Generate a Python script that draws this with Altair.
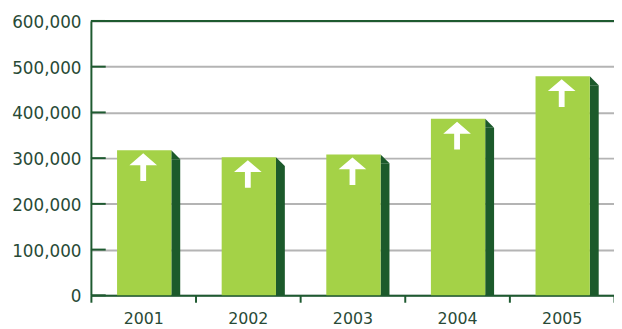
import altair as alt
import pandas as pd

years = ["2001", "2002", "2003", "2004", "2005"]
values = [317000, 302000, 308000, 386000, 479000]
tick_values = [0, 100000, 200000, 300000, 400000, 500000, 600000]

FRONT = "#a4d247"
SIDE = "#1c5a2b"
AXIS = "#1e5a30"
GRID = "#b4b4b4"
LABEL = "#284a36"
FONT = "DejaVu Sans"

df = pd.DataFrame({"year": years, "value": values})
ticks_df = pd.DataFrame({"v": tick_values})
top_df = pd.DataFrame({"v": [tick_values[-1]]})

x = alt.X("year:N", title=None,
          scale=alt.Scale(paddingInner=0, paddingOuter=0),
          axis=alt.Axis(labelAngle=0, domainColor=AXIS, domainWidth=2,
                        tickColor=AXIS, tickWidth=2, tickSize=7,
                        tickBand="extent", labelPadding=9,
                        labelFont=FONT, labelFontSize=16, labelColor=LABEL,
                        grid=False))
y = alt.Y("value:Q", title=None,
          scale=alt.Scale(domain=[0, 600000], nice=False),
          axis=alt.Axis(values=tick_values, format=",d", ticks=False,
                        domainColor=AXIS, domainWidth=2,
                        gridColor=GRID, gridWidth=2,
                        labelPadding=10, labelFont=FONT, labelFontSize=17,
                        labelOffset=1.5, labelColor=LABEL))

side = alt.Chart(df).mark_bar(width=9, xOffset=33, yOffset=9, clip=True,
                              color=SIDE).encode(x=x, y=y)
bevel = alt.Chart(df).mark_point(
    shape="M-1,-1 L1,1 L-1,1 Z", size=81, filled=True, opacity=1,
    color=SIDE, strokeWidth=0, xOffset=33, yOffset=4.5
).encode(x=x, y=y)
front = alt.Chart(df).mark_bar(width=55, xOffset=1, color=FRONT).encode(x=x, y=y)
arrows = alt.Chart(df).mark_point(
    shape="M0,-1 L1,-0.14 L0.21,-0.14 L0.21,1 L-0.21,1 L-0.21,-0.14 L-1,-0.14 Z",
    size=784, filled=True, opacity=1, color="white", strokeWidth=0,
    yOffset=17
).encode(x=x, y=y)

inner_ticks = alt.Chart(ticks_df).mark_rule(color=AXIS, strokeWidth=2).encode(
    y=alt.Y("v:Q"), x=alt.value(0), x2=alt.value(15))
top_line = alt.Chart(top_df).mark_rule(color=AXIS, strokeWidth=2).encode(
    y=alt.Y("v:Q"), x=alt.value(0), x2=alt.value(530))

chart = alt.layer(side, bevel, front, arrows, inner_ticks, top_line).properties(
    width=530, height=278,
    autosize=alt.AutoSizeParams(type="none"),
    padding={"left": 84, "top": 11, "right": 0, "bottom": 32},
).configure_view(stroke=None)

chart.save("out.html", embed_options={"renderer": "svg", "actions": False})
